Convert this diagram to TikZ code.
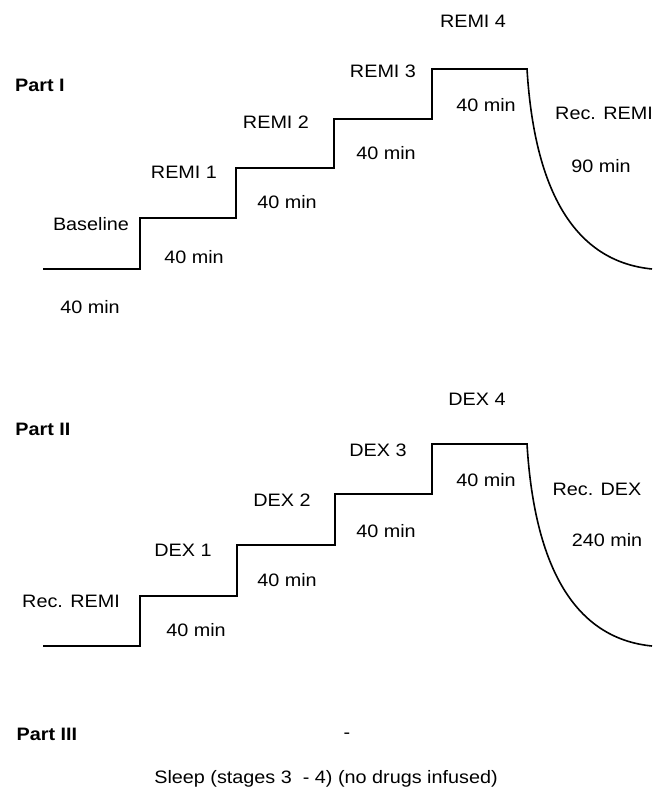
\documentclass[tikz,border=0pt]{standalone}
\usepackage{fontspec}
\setmainfont[FakeStretch=1.1]{Liberation Sans}
\usetikzlibrary{positioning}

\tikzset{
  txt/.style={font=\fontsize{9}{11}\selectfont, inner sep=0pt, anchor=base},
  parttxt/.style={txt, font=\fontsize{9}{11}\selectfont\bfseries},
  profile/.style={line width=0.8pt, line join=miter},
}

\begin{document}
\begin{tikzpicture}[x=0.5pt, y=-0.5pt]
\useasboundingbox (0,0) rectangle (661,791);

% Part I
\coordinate (b0) at (43,269);
\coordinate (b1) at (140,218);
\coordinate (b2) at (236,168);
\coordinate (b3) at (334,119);
\coordinate (b4) at (432,69);
\coordinate (b5) at (527,69);
\coordinate (bend) at (652,269);
\draw[profile] (b0) -| (b1) -| (b2) -| (b3) -| (b4) -- (b5)
  .. controls (535,200) and (580,262) .. (bend);

\node[parttxt] (part1) at (40,92) {Part I};
\node[txt] (remi4) at (473,28) {REMI 4};
\node[txt] (remi3) at (383,78) {REMI 3};
\node[txt] (remi2) at (276,129) {REMI 2};
\node[txt] (remi1) at (184,179) {REMI 1};
\node[txt] (base) at (91,230) {Baseline};
\node[txt] (recremi) at (604,120) {Rec. REMI};
\node[txt] (t4) at (486,112) {40 min};
\node[txt] (t3) at (386,160) {40 min};
\node[txt] (t2) at (287,208) {40 min};
\node[txt] (t1) at (194,263) {40 min};
\node[txt] (t0) at (90,313) {40 min};
\node[txt] (trec) at (601,173) {90 min};

% Part II
\begin{scope}[shift={(0,377)}]
\coordinate (d0) at (43,269);
\coordinate (d1) at (140,219);
\coordinate (d2) at (237,168);
\coordinate (d3) at (335,117);
\coordinate (d4) at (432,67);
\coordinate (d5) at (527,67);
\coordinate (dend) at (652,269);
\draw[profile] (d0) -| (d1) -| (d2) -| (d3) -| (d4) -- (d5)
  .. controls (535,199) and (580,262) .. (dend);
\end{scope}

\node[parttxt] (part2) at (43,435) {Part II};
\node[txt] (dex4) at (477,405) {DEX 4};
\node[txt] (dex3) at (378,456) {DEX 3};
\node[txt] (dex2) at (282,506) {DEX 2};
\node[txt] (dex1) at (183,556) {DEX 1};
\node[txt] (recremi2) at (71,607) {Rec. REMI};
\node[txt] (recdex) at (597,495) {Rec. DEX};
\node[txt] (u4) at (486,486) {40 min};
\node[txt] (u3) at (386,537) {40 min};
\node[txt] (u2) at (287,586) {40 min};
\node[txt] (u1) at (196,636) {40 min};
\node[txt] (urec) at (607,546) {240 min};

% Part III
\node[parttxt] (part3) at (47,740) {Part III};
\node[txt] (dash) at (347,738) {-};
\node[txt] (sleep) at (326,783) {Sleep (stages 3~ - 4) (no drugs infused)};
\end{tikzpicture}
\end{document}
